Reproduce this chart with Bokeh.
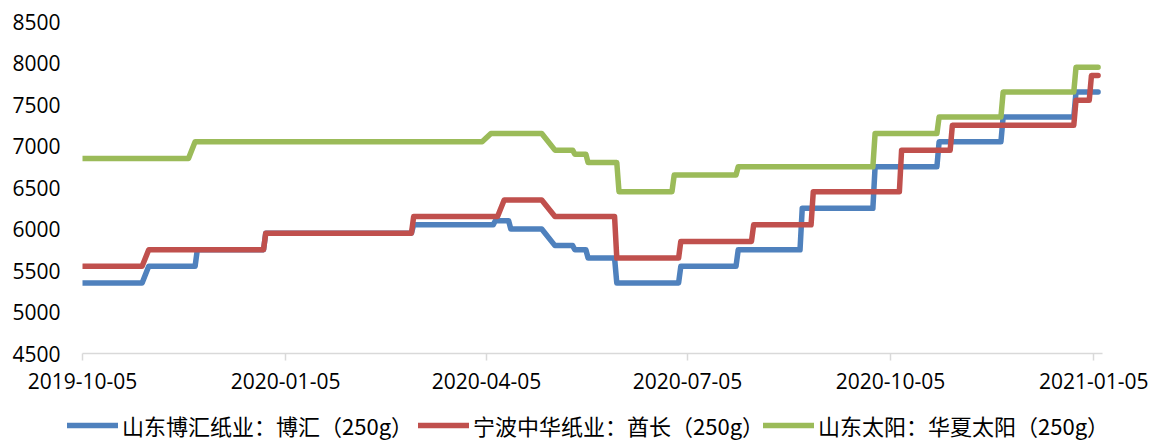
from datetime import datetime
import pandas as pd
from bokeh.plotting import figure
from bokeh.layouts import column
from bokeh.models import (Range1d, FixedTicker, DatetimeTickFormatter, Legend,
                          LegendItem, ColumnDataSource)
from bokeh.embed import file_html
from bokeh.resources import INLINE

# ---- data (vertices of the price lines) ----
boh_dates = ["2019-10-05", "2019-11-01", "2019-11-04", "2019-11-25", "2019-11-26",
             "2019-12-26", "2019-12-27", "2020-03-02", "2020-03-03", "2020-04-08",
             "2020-04-09", "2020-04-15", "2020-04-16", "2020-04-30", "2020-05-06",
             "2020-05-14", "2020-05-15", "2020-05-20", "2020-05-21", "2020-06-02",
             "2020-06-03", "2020-07-01", "2020-07-02", "2020-07-27", "2020-07-28",
             "2020-08-25", "2020-08-26", "2020-09-27", "2020-09-28", "2020-10-26",
             "2020-10-27", "2020-11-24", "2020-11-25", "2020-12-27", "2020-12-28",
             "2021-01-07"]
boh_vals = [5350, 5350, 5550, 5550, 5750,
            5750, 5950, 5950, 6050, 6050,
            6100, 6100, 6000, 6000, 5800,
            5800, 5750, 5750, 5650, 5650,
            5350, 5350, 5550, 5550, 5750,
            5750, 6250, 6250, 6750, 6750,
            7050, 7050, 7350, 7350, 7650,
            7650]

nb_dates = ["2019-10-05", "2019-11-01", "2019-11-04", "2019-12-26", "2019-12-27",
            "2020-03-02", "2020-03-03", "2020-04-10", "2020-04-13", "2020-04-30",
            "2020-05-06", "2020-06-02", "2020-06-03", "2020-07-01", "2020-07-02",
            "2020-08-03", "2020-08-04", "2020-08-30", "2020-08-31", "2020-10-09",
            "2020-10-10", "2020-11-01", "2020-11-02", "2020-12-27", "2020-12-28",
            "2021-01-03", "2021-01-04", "2021-01-07"]
nb_vals = [5550, 5550, 5750, 5750, 5950,
           5950, 6150, 6150, 6350, 6350,
           6150, 6150, 5650, 5650, 5850,
           5850, 6050, 6050, 6450, 6450,
           6950, 6950, 7250, 7250, 7550,
           7550, 7850, 7850]

sd_dates = ["2019-10-05", "2019-11-22", "2019-11-25", "2020-04-03", "2020-04-07",
            "2020-04-30", "2020-05-06", "2020-05-14", "2020-05-15", "2020-05-20",
            "2020-05-21", "2020-06-03", "2020-06-04", "2020-06-28", "2020-06-29",
            "2020-07-27", "2020-07-28", "2020-09-27", "2020-09-28", "2020-10-26",
            "2020-10-27", "2020-11-24", "2020-11-25", "2020-12-27", "2020-12-28",
            "2021-01-07"]
sd_vals = [6850, 6850, 7050, 7050, 7150,
           7150, 6950, 6950, 6900, 6900,
           6800, 6800, 6450, 6450, 6650,
           6650, 6750, 6750, 7150, 7150,
           7350, 7350, 7650, 7650, 7950,
           7950]

series_names = ["山东博汇纸业：博汇（250g）", "宁波中华纸业：酋长（250g）", "山东太阳：华夏太阳（250g）"]
series_colors = ["#4f81bd", "#c0504d", "#9bbb59"]

x_ticks = ["2019-10-05", "2020-01-05", "2020-04-05", "2020-07-05", "2020-10-05", "2021-01-05"]
y_ticks = [4500, 5000, 5500, 6000, 6500, 7000, 7500, 8000, 8500]

x_start, x_end = "2019-10-05", "2021-01-09"

LINE_W = 5.5
LEGEND_X = [67, 418, 763]   # left edge of each legend entry (px)

sources = [ColumnDataSource(dict(x=pd.to_datetime(d), y=v))
           for d, v in [(boh_dates, boh_vals), (nb_dates, nb_vals), (sd_dates, sd_vals)]]

# ---- main figure ----
p = figure(frame_width=1020, frame_height=332, x_axis_type="datetime",
           output_backend="svg", toolbar_location=None,
           x_range=Range1d(pd.Timestamp(x_start), pd.Timestamp(x_end)),
           y_range=Range1d(4500, 8500),
           min_border_left=82, min_border_right=54, min_border_top=21,
           min_border_bottom=56)
p.outline_line_color = None
p.xgrid.visible = False
p.ygrid.visible = False
p.background_fill_color = "white"
p.border_fill_color = "white"

for src, c in zip(sources, series_colors):
    p.line("x", "y", source=src, line_color=c, line_width=LINE_W,
           line_join="round", line_cap="round")

tick_font = "Open Sans"
xa = p.xaxis[0]
xa.ticker = FixedTicker(ticks=[pd.Timestamp(t).value / 1e6 for t in x_ticks])
fmt = "%Y-%m-%d"
xa.formatter = DatetimeTickFormatter(milliseconds=fmt, seconds=fmt, minsec=fmt, minutes=fmt,
                                     hourmin=fmt, hours=fmt, days=fmt, months=fmt, years=fmt)
xa.axis_line_color = "#d9d9d9"
xa.axis_line_width = 1.5
xa.major_tick_line_color = "#d9d9d9"
xa.major_tick_line_width = 1.5
xa.major_tick_out = 7
xa.major_tick_in = 0
xa.minor_tick_line_color = None
xa.major_label_text_font = tick_font
xa.major_label_text_font_size = "21px"
xa.major_label_text_color = "#000000"
xa.major_label_standoff = 12

ya = p.yaxis[0]
ya.ticker = FixedTicker(ticks=y_ticks)
ya.axis_line_color = None
ya.major_tick_line_color = None
ya.minor_tick_line_color = None
ya.major_tick_out = 0
ya.major_tick_in = 0
ya.major_label_text_font = tick_font
ya.major_label_text_font_size = "21px"
ya.major_label_text_color = "#000000"
ya.major_label_standoff = 22

# ---- legend strip (separate small figure below the chart; the series lie outside its view) ----
lg = figure(frame_width=1156, frame_height=32, output_backend="svg", toolbar_location=None,
            x_axis_location=None, y_axis_location=None,
            x_range=Range1d(0, 1), y_range=Range1d(0, 1),
            min_border_left=0, min_border_right=0, min_border_top=0, min_border_bottom=0)
lg.outline_line_color = None
lg.xgrid.visible = False
lg.ygrid.visible = False
lg.background_fill_color = "white"
lg.border_fill_color = "white"

for n, c, src, lx in zip(series_names, series_colors, sources, LEGEND_X):
    r = lg.line("x", "y", source=src, line_color=c, line_width=LINE_W,
                line_join="round", line_cap="round")
    leg = Legend(items=[LegendItem(label=n, renderers=[r])], location=(lx, 0),
                 label_text_font="Noto Sans CJK SC", label_text_font_size="22px",
                 label_text_color="#000000", label_height=22,
                 glyph_width=51, glyph_height=20, label_standoff=4,
                 padding=0, margin=0, border_line_color=None, background_fill_alpha=0)
    lg.add_layout(leg, "center")

layout = column(p, lg, spacing=0)
open("out.html", "w").write(file_html(layout, INLINE))
